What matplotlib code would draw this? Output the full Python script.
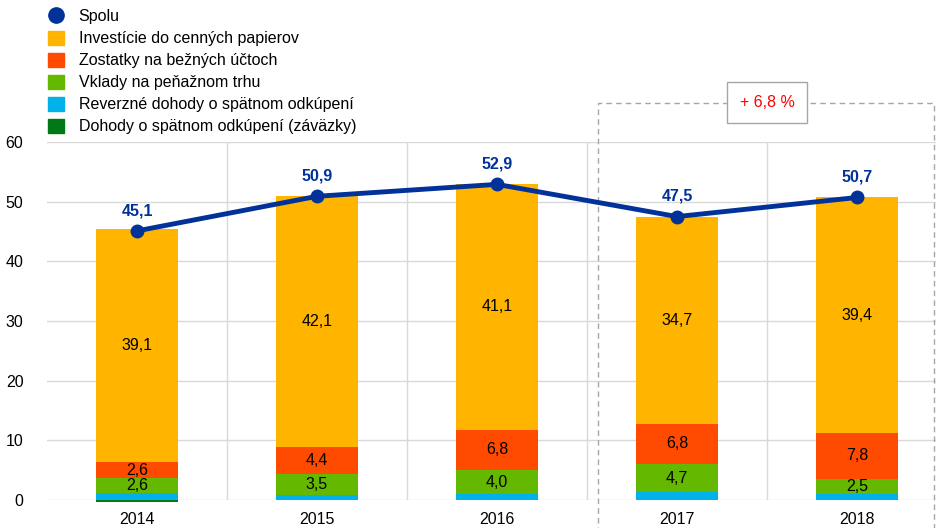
import matplotlib

matplotlib.use("Agg")
import matplotlib.pyplot as plt
from matplotlib.lines import Line2D
from matplotlib.patches import Patch, Rectangle
import numpy as np

plt.rcParams["font.family"] = ["Liberation Sans", "DejaVu Sans"]

years = ["2014", "2015", "2016", "2017", "2018"]
repo = [-0.3, 0.0, 0.0, 0.0, 0.0]
reverse_repo = [1.1, 0.9, 1.0, 1.3, 1.0]
money_market = [2.6, 3.5, 4.0, 4.7, 2.5]
current_acc = [2.6, 4.4, 6.8, 6.8, 7.8]
securities = [39.1, 42.1, 41.1, 34.7, 39.4]
total = [45.1, 50.9, 52.9, 47.5, 50.7]
growth_label = "+ 6,8 %"

names = ["Spolu", "Investície do cenných papierov", "Zostatky na bežných účtoch",
         "Vklady na peňažnom trhu", "Reverzné dohody o spätnom odkúpení",
         "Dohody o spätnom odkúpení (záväzky)"]
C_TOT = "#003299"; C_SEC = "#FFB400"; C_CUR = "#FF4B00"
C_MM = "#65B800"; C_REV = "#00B1EA"; C_REPO = "#007816"
FS = 11.5

W, H = 936, 528
fig = plt.figure(figsize=(W / 100, H / 100), dpi=100)
ax = fig.add_axes([47 / W, 28 / H, 900 / W, 358 / H])
x = np.arange(len(years))
bw = 0.455

# stacked bars: repo (negative) below zero, the rest stacked upward
ax.bar(x, repo, bw, color=C_REPO, clip_on=False, zorder=3)
base = np.zeros(len(x))
for vals, col, lab in [(reverse_repo, C_REV, False), (money_market, C_MM, True),
                       (current_acc, C_CUR, True), (securities, C_SEC, True)]:
    v = np.array(vals)
    ax.bar(x, v, bw, bottom=base, color=col, zorder=3)
    if lab:
        for xi, b, vi in zip(x, base, v):
            ax.text(xi, b + vi / 2, f"{vi:.1f}".replace(".", ","), ha="center",
                    va="center", fontsize=FS, color="black", zorder=5)
    base = base + v

ax.plot(x, total, color=C_TOT, lw=3.5, marker="o", ms=9, zorder=6)
for xi, t in zip(x, total):
    ax.text(xi, t + 3.4, f"{t:.1f}".replace(".", ","), ha="center", va="center",
            fontsize=FS, fontweight="bold", color=C_TOT, zorder=7)

ax.set_xlim(-0.5, 4.5); ax.set_ylim(0, 60)
ax.set_yticks(range(0, 61, 10))
ax.set_xticks(x, years)
ax.tick_params(length=0, labelsize=FS, colors="black")
ax.tick_params(axis="y", pad=17)
ax.tick_params(axis="x", pad=9)
for s in ax.spines.values():
    s.set_visible(False)
ax.grid(axis="y", color="#d9d9d9", lw=1, zorder=0)
for b in [0.5, 1.5, 2.5, 3.5]:
    ax.axvline(b, color="#d9d9d9", lw=1, zorder=0)

# dashed bracket around 2017-2018 with growth label
box = Rectangle((2.56, -10), 1.87, 76.5, fill=False, ls=(0, (4, 3)), lw=1,
                edgecolor="#a6a6a6", clip_on=False, zorder=2)
ax.add_patch(box)
ax.text(3.5, 66.6, growth_label, ha="center", va="center", fontsize=FS,
        color="#FF0000", zorder=8, clip_on=False,
        bbox=dict(boxstyle="square,pad=0.8", fc="white", ec="#a6a6a6", lw=1))

handles = [Line2D([], [], ls="none", marker="o", ms=11, color=C_TOT),
           Patch(color=C_SEC), Patch(color=C_CUR), Patch(color=C_MM),
           Patch(color=C_REV), Patch(color=C_REPO)]
fig.legend(handles, names, loc="upper left", bbox_to_anchor=(37 / W, 1.005),
           frameon=False, fontsize=FS, handlelength=1.0, handleheight=1.0,
           handletextpad=0.9, labelspacing=0.4, borderaxespad=0.3)

fig.savefig("out.png", dpi=100)
